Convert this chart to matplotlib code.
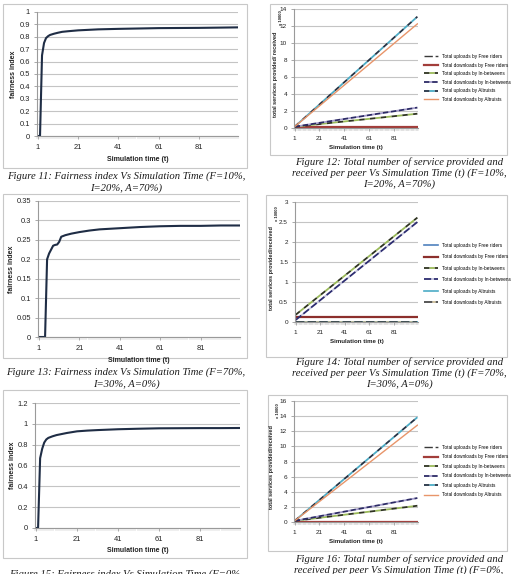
import numpy as np
import matplotlib
matplotlib.use("Agg")
import matplotlib.pyplot as plt
from matplotlib.patches import Rectangle

W, H = 511, 574
GRID = "#c4c4c4"
AXIS = "#9a9a9a"
INK = "#222222"
CURVE = "#1f2d45"

# ---- fairness index curves (figs 11, 13, 15) ----
T11 = [1, 2, 3, 4, 5, 6, 7, 9, 11, 13, 16, 21, 26, 31, 41, 51, 61, 71, 81, 91, 100]
F11 = [0, 0, 0.65, 0.75, 0.79, 0.805, 0.815, 0.825, 0.833, 0.84, 0.845, 0.852,
       0.856, 0.86, 0.864, 0.867, 0.87, 0.871, 0.872, 0.874, 0.876]

T13 = [1, 2, 3, 4, 5, 6, 7, 8, 9, 10, 11, 12, 14, 17, 21, 26, 31, 41, 51, 61, 71, 81, 91, 100]
F13 = [0, 0, 0, 0, 0.2, 0.215, 0.225, 0.235, 0.237, 0.238, 0.245, 0.258, 0.262, 0.266,
       0.27, 0.274, 0.277, 0.28, 0.283, 0.285, 0.286, 0.286, 0.287, 0.287]

T15 = [1, 2, 3, 4, 5, 6, 7, 9, 11, 13, 16, 21, 26, 31, 41, 51, 61, 71, 81, 91, 100]
F15 = [0, 0, 0.67, 0.76, 0.82, 0.85, 0.865, 0.88, 0.892, 0.9, 0.912, 0.928, 0.935,
       0.94, 0.948, 0.953, 0.957, 0.958, 0.959, 0.959, 0.96]

# ---- totals per peer (x 10000), straight lines: value at t=1 and t=100 ----
T_LIN = [1, 100]
SERIES = ["Total uploads by Free riders", "Total downloads by Free riders",
          "Total uploads by In-betweens", "Total downloads by In-betweens",
          "Total uploads by Altruists", "Total downloads by Altruists"]
S12 = [[0, 0], [0.06, 0.06], [0.15, 1.68], [0.15, 2.4], [0.15, 13.1], [0.15, 12.25]]
S14 = [[0, 0], [0.12, 0.12], [0.18, 2.61], [0.05, 2.5], [0, 0], [0, 0]]
S16 = [[0, 0], [0.06, 0.06], [0.15, 2.15], [0.15, 3.17], [0.15, 13.85], [0.15, 12.8]]

CAPTIONS = {
    11: ["Figure 11: Fairness index Vs Simulation Time (F=10%,", "I=20%, A=70%)"],
    12: ["Figure 12: Total number of service provided and",
         "received per peer Vs Simulation Time (t) (F=10%,", "I=20%, A=70%)"],
    13: ["Figure 13: Fairness index Vs Simulation Time (F=70%,", "I=30%, A=0%)"],
    14: ["Figure 14: Total number of service provided and",
         "received per peer Vs Simulation Time (t) (F=70%,", "I=30%, A=0%)"],
    15: ["Figure 15: Fairness index Vs Simulation Time (F=0%,"],
    16: ["Figure 16: Total number of service provided and",
         "received per peer Vs Simulation Time (t) (F=0%,"],
}

STYLE_A = [  # figs 12 and 16
    dict(color="#3a3a3a", ls=(0, (6, 2, 2, 2)), lw=1.0),
    dict(color="#a23d3a", ls="-", lw=1.6),
    dict(color="#2e3320", ls=(0, (3, 3)), gapcolor="#9bbb59", lw=1.3),
    dict(color="#2c2a66", ls=(0, (3, 1.5)), gapcolor="#a49ccc", lw=1.3),
    dict(color="#233244", ls=(0, (3, 3)), gapcolor="#4bacc6", lw=1.3),
    dict(color="#e8956a", ls="-", lw=1.0),
]
STYLE_B = [  # fig 14
    dict(color="#4f81bd", ls="-", lw=1.2),
    dict(color="#8c2f2c", ls="-", lw=1.6),
    dict(color="#2e3320", ls=(0, (3, 3)), gapcolor="#9bbb59", lw=1.3),
    dict(color="#2c2c70", ls=(0, (4, 1.5)), gapcolor="#c8c8e0", lw=1.3),
    dict(color="#4bacc6", ls="-", lw=1.2),
    dict(color="#3b3b3b", ls=(0, (5, 2)), gapcolor="#c9b98f", lw=1.2),
]

plt.rcParams["font.family"] = ["Liberation Sans", "DejaVu Sans"]
fig = plt.figure(figsize=(W / 100, H / 100), dpi=100)
fig.patch.set_facecolor("white")


def box(x0, y0, x1, y1):
    fig.add_artist(Rectangle((x0 / W, 1 - y1 / H), (x1 - x0) / W, (y1 - y0) / H,
                             transform=fig.transFigure, fc="white", ec="#c8c8c8",
                             lw=0.8, zorder=-5))


def px_axes(x0, y0, x1, y1):
    return fig.add_axes([x0 / W, 1 - y1 / H, (x1 - x0) / W, (y1 - y0) / H])


def style_axes(ax, ymax, ystep, fmt, lab=5.2):
    ax.set_facecolor("none")
    ax.set_xlim(0.5, 100.5)
    ax.set_ylim(0, ymax)
    ax.set_yticks(np.arange(0, ymax + ystep / 2, ystep))
    ax.set_yticklabels([fmt(v) for v in np.arange(0, ymax + ystep / 2, ystep)])
    ax.set_xticks([1, 21, 41, 61, 81])
    ax.set_xticks(np.arange(0.5, 101, 1), minor=True)
    ax.grid(True, axis="y", color=GRID, lw=0.8)
    ax.set_axisbelow(True)
    for sp in ("top", "right"):
        ax.spines[sp].set_visible(False)
    for sp in ("left", "bottom"):
        ax.spines[sp].set_color(AXIS)
        ax.spines[sp].set_linewidth(0.8)
    ax.tick_params(axis="both", which="major", length=2, width=0.6, color=AXIS,
                   labelsize=lab, labelcolor=INK, pad=3)
    ax.tick_params(axis="x", which="minor", length=1.8, width=0.3, color="#b5b5b5")
    ax.tick_params(axis="x", which="major", length=2, pad=4)


def caption(lines, xc, ytop, step):
    for i, ln in enumerate(lines):
        fig.text(xc / W, 1 - (ytop + i * step) / H, ln, ha="center", va="center",
                 family=["Liberation Serif", "DejaVu Serif"], style="italic",
                 fontsize=7.7, color="#1a1a1a")


def fairness(rect, boxr, t, f, ymax, ystep, fmt, ylab_x, cap, cap_y):
    box(*boxr)
    ax = px_axes(*rect)
    style_axes(ax, ymax, ystep, fmt, lab=5.4)
    ax.plot(t, f, color=CURVE, lw=1.5, solid_joinstyle="round")
    ax.set_xlabel("Simulation time (t)", fontsize=5, fontweight="bold", color=INK, labelpad=3)
    yc = (rect[1] + rect[3]) / 2
    fig.text(ylab_x / W, 1 - yc / H, "fairness index", rotation=90, ha="center",
             va="center", fontsize=5, fontweight="bold", color=INK)
    caption(cap, 126, cap_y, 12.3)


def totals(rect, boxr, data, styles, ymax, ystep, fmt, ylab, ylab_x, xk_y, leg_y, leg_sp,
           cap, cap_y):
    box(*boxr)
    ax = px_axes(*rect)
    style_axes(ax, ymax, ystep, fmt, lab=4.6)
    handles = []
    for name, vals, st in zip(SERIES, data, styles):
        st = dict(st)
        ln, = ax.plot(T_LIN, vals, color=st.pop("color"), linestyle=st.pop("ls"),
                      lw=st.pop("lw"), label=name, **st)
        handles.append(ln)
    ax.set_xlabel("Simulation time (t)", fontsize=4.4, fontweight="bold", color=INK, labelpad=3)
    yc = (rect[1] + rect[3]) / 2 + 6
    fig.text(ylab_x / W, 1 - yc / H, ylab, rotation=90, ha="center", va="center",
             fontsize=4.0, fontweight="bold", color=INK)
    fig.text((ylab_x + 6) / W, 1 - xk_y / H, "x 10000", rotation=90, ha="center",
             va="center", fontsize=3.0, fontweight="bold", color=INK)
    fig.legend(handles=handles, loc="upper left",
               bbox_to_anchor=(424 / W, 1 - leg_y / H), frameon=False, fontsize=3.4,
               handlelength=3.0, handletextpad=0.8, labelspacing=leg_sp,
               borderaxespad=0, borderpad=0)
    caption(cap, 399, cap_y, 11)
    return ax


fairness((37, 12, 238, 136), (3, 4, 247, 168), T11, F11, 1.0, 0.1,
         lambda v: f"{v:g}", 14, CAPTIONS[11], 176)
fairness((38, 201, 240, 337), (3, 194, 247, 358), T13, F13, 0.35, 0.05,
         lambda v: f"{round(v, 2):g}", 12, CAPTIONS[13], 372)
fairness((35, 403, 240, 528), (3, 390, 247, 558), T15, F15, 1.2, 0.2,
         lambda v: f"{round(v, 1):g}", 13, CAPTIONS[15], 574)

totals((294, 9, 418, 128), (270, 4, 507, 155), S12, STYLE_A, 14, 2, lambda v: f"{v:g}",
       "total services provided/ received", 275, 18, 54, 0.75, CAPTIONS[12], 162)
totals((295, 202, 418, 322), (266, 195, 507, 357), S14, STYLE_B, 3, 0.5,
       lambda v: f"{round(v, 1):g}", "total services provided/received", 271, 214,
       243, 1.35, CAPTIONS[14], 362)
totals((294, 401, 418, 522), (268, 395, 507, 551), S16, STYLE_A, 16, 2, lambda v: f"{v:g}",
       "total services provided/received", 272, 411, 445, 0.95, CAPTIONS[16], 559)

fig.savefig("out.png", dpi=100, facecolor="white")
